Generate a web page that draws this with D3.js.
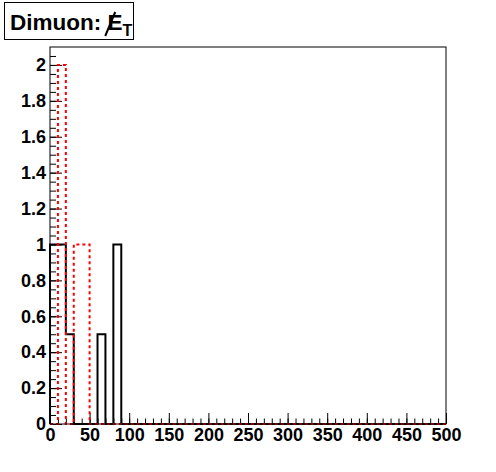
<!DOCTYPE html>
<meta charset="utf-8">
<style>
body { margin: 0; background: #fff; }
text { font-family: "Liberation Sans", Arial, sans-serif; font-weight: bold; }
</style>
<svg width="496" height="472"></svg>
<script src="https://d3js.org/d3.v7.min.js"></script>
<script>
// 50 bins of width 10 from 0 to 500
var binLow = [0,10,20,30,40,50,60,70,80,90,100,110,120,130,140,150,160,170,180,190,
              200,210,220,230,240,250,260,270,280,290,300,310,320,330,340,350,360,370,380,390,
              400,410,420,430,440,450,460,470,480,490];
var binWidth = 10;
var blackCounts = [1,1,0.5,0,0,0,0.5,0,1,0, 0,0,0,0,0,0,0,0,0,0,
                   0,0,0,0,0,0,0,0,0,0, 0,0,0,0,0,0,0,0,0,0, 0,0,0,0,0,0,0,0,0,0];
var redCounts   = [0,2,0,1,1,0,0,0,0,0, 0,0,0,0,0,0,0,0,0,0,
                   0,0,0,0,0,0,0,0,0,0, 0,0,0,0,0,0,0,0,0,0, 0,0,0,0,0,0,0,0,0,0];
var xTickLabels = [0,50,100,150,200,250,300,350,400,450,500];
var yTickLabels = [0,0.2,0.4,0.6,0.8,1,1.2,1.4,1.6,1.8,2];

var svg = d3.select("svg");
var x = d3.scaleLinear().domain([0, 500]).range([50, 446]);
var y = d3.scaleLinear().domain([0, 2.1]).range([424, 47]);

// minor ticks
svg.append("g")
    .attr("transform", "translate(0,424)")
    .call(d3.axisBottom(x).tickValues(d3.range(0, 501, 10)).tickSize(-5.5).tickFormat(""))
    .call(function(g) { g.select(".domain").remove(); });
svg.append("g")
    .attr("transform", "translate(50,0)")
    .call(d3.axisLeft(y).tickValues(d3.range(0, 2.1, 0.05)).tickSize(-6).tickFormat(""))
    .call(function(g) { g.select(".domain").remove(); });

// major ticks with labels
var xAxis = svg.append("g")
    .attr("transform", "translate(0,424)")
    .call(d3.axisBottom(x).tickValues(xTickLabels).tickSize(-11).tickPadding(4).tickFormat(d3.format("d")));
var yAxis = svg.append("g")
    .attr("transform", "translate(50,0)")
    .call(d3.axisLeft(y).tickValues(yTickLabels).tickSize(-12).tickPadding(4).tickFormat(d3.format("~g")));
[xAxis, yAxis].forEach(function(g) {
    g.select(".domain").remove();
    g.selectAll("text").attr("fill", "#000").style("font-size", "18px").style("font-family", "'Liberation Sans', Arial, sans-serif").style("font-weight", "bold");
});
svg.selectAll(".tick line").attr("stroke", "#000").attr("stroke-width", 1);

function histPath(counts) {
    var pts = [[0, 0]];
    counts.forEach(function(v, i) {
        pts.push([binLow[i], v]);
        pts.push([binLow[i] + binWidth, v]);
    });
    pts.push([500, 0]);
    return d3.line().x(function(d) { return x(d[0]); }).y(function(d) { return y(d[1]); })(pts);
}

svg.append("path")
    .attr("d", histPath(blackCounts))
    .attr("fill", "none")
    .attr("stroke", "#000")
    .attr("stroke-width", 2);

svg.append("path")
    .attr("d", histPath(redCounts))
    .attr("fill", "none")
    .attr("stroke", "#f00")
    .attr("stroke-width", 2)
    .attr("stroke-dasharray", "3 3");

// frame
svg.append("rect")
    .attr("x", 50).attr("y", 47)
    .attr("width", 396).attr("height", 377)
    .attr("fill", "none")
    .attr("stroke", "#000")
    .attr("stroke-width", 1);

// title box
svg.append("rect")
    .attr("x", 4.5).attr("y", 2.5)
    .attr("width", 129).attr("height", 37)
    .attr("fill", "#fff")
    .attr("stroke", "#000");

var title = svg.append("text")
    .attr("x", 10).attr("y", 30)
    .style("font-size", "22.5px");
title.append("tspan").text("Dimuon: ");
title.append("tspan").text("E");
title.append("tspan").attr("dy", 6).style("font-size", "16px").text("T");

var pre = svg.append("text").style("font-size", "22.5px").text("Dimuon: ");
var ePos = 10 + pre.node().getComputedTextLength();
pre.remove();
svg.append("line")
    .attr("x1", ePos + 4).attr("y1", 36)
    .attr("x2", ePos + 14).attr("y2", 12)
    .attr("stroke", "#000").attr("stroke-width", 2);
</script>
